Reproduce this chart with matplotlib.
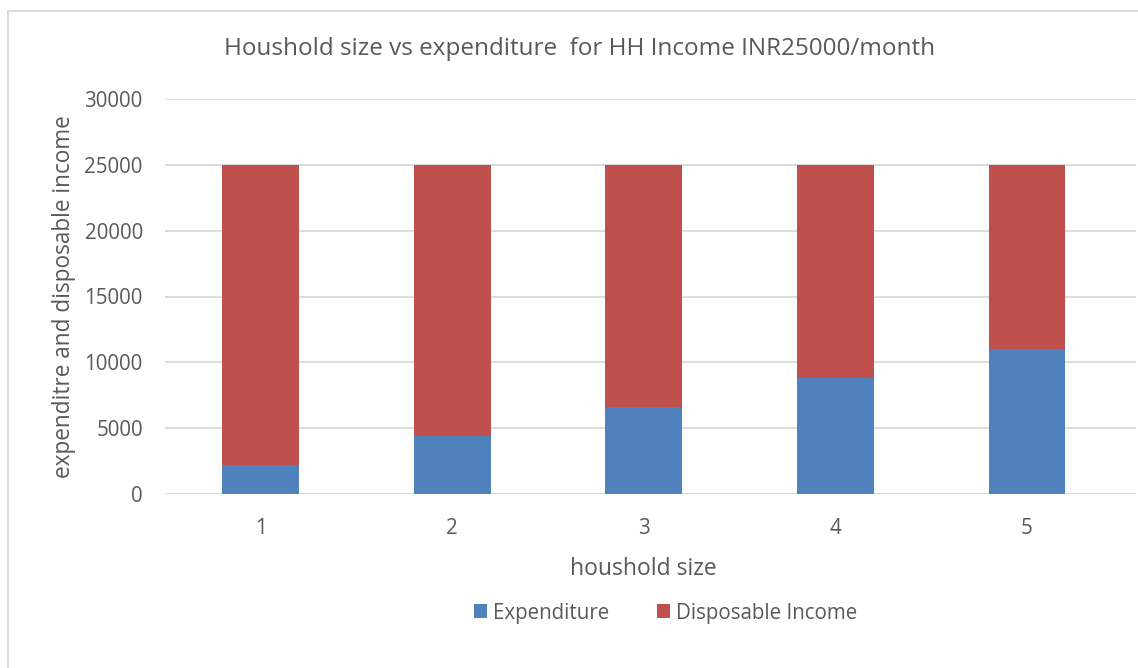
import numpy as np
import matplotlib.pyplot as plt
from matplotlib.patches import Rectangle

plt.rcParams['font.family'] = ['Open Sans', 'DejaVu Sans']

household_size = ['1', '2', '3', '4', '5']
expenditure = [2200, 4400, 6600, 8800, 11000]
income = 25000
disposable = [income - e for e in expenditure]

text_col = '#595959'
blue = '#4f81bd'
red = '#c0504d'

fig = plt.figure(figsize=(11.38, 6.68), dpi=100)
ax = fig.add_axes([165 / 1138, 1 - 494 / 668, (1136 - 165) / 1138, (494 - 99) / 668])

x = np.arange(len(household_size))
ax.bar(x, expenditure, width=0.4, color=blue, label='Expenditure', zorder=3)
ax.bar(x, disposable, width=0.4, bottom=expenditure, color=red,
       label='Disposable Income', zorder=3)

ax.set_xlim(-0.5, 4.57)
ax.set_ylim(0, 30000)
ax.set_yticks(range(0, 30001, 5000))
ax.set_xticks(x)
ax.set_xticklabels(household_size)
ax.yaxis.grid(True, color='#d9d9d9', linewidth=1.3, zorder=0)
for s in ax.spines.values():
    s.set_visible(False)
ax.tick_params(length=0, labelsize=14.8, colors=text_col)
ax.tick_params(axis='y', pad=16)
ax.tick_params(axis='x', pad=17)

ax.set_xlabel('houshold size', fontsize=16.5, color=text_col, labelpad=13)
ax.xaxis.label.set_x((643 - 165) / 971)
ax.set_ylabel('expenditre and disposable income', fontsize=16.3, color=text_col, labelpad=6)
fig.text(580 / 1138, 1 - 49 / 668,
         'Houshold size vs expenditure  for HH Income INR25000/month',
         ha='center', va='center', fontsize=17.5, color=text_col)

fig.legend(loc='center', bbox_to_anchor=(0.585, 1 - 613 / 668), ncol=2, frameon=False,
           fontsize=14.8, labelcolor=text_col, handlelength=0.65, handleheight=0.65,
           handletextpad=0.3, columnspacing=2.3)

# chart frame
fig.patches.append(Rectangle((8 / 1138, -0.01), 1.1, 1 - 11 / 668 + 0.01,
                             transform=fig.transFigure, fill=False,
                             edgecolor='#d9d9d9', linewidth=1.3))

fig.savefig('out.png', dpi=100)
